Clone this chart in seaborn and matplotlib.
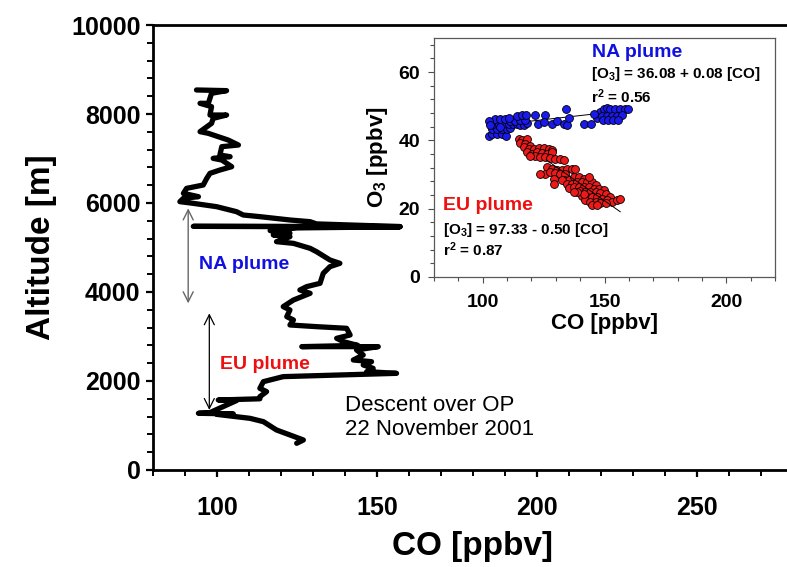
import numpy as np
import pandas as pd
import matplotlib
matplotlib.use("Agg")
import matplotlib.pyplot as plt
import seaborn as sns
from matplotlib.ticker import MultipleLocator

sns.set_theme(style="ticks")
plt.rcParams['font.family'] = ['Liberation Sans', 'DejaVu Sans']
plt.rcParams['mathtext.fontset'] = 'custom'
plt.rcParams['mathtext.rm'] = 'Liberation Sans:bold'
plt.rcParams['mathtext.it'] = 'Liberation Sans:bold'
plt.rcParams['mathtext.bf'] = 'Liberation Sans:bold'
plt.rcParams['mathtext.default'] = 'rm'
for key in ['text.color', 'axes.labelcolor', 'xtick.color', 'ytick.color', 'axes.edgecolor']:
    plt.rcParams[key] = 'black'

# Descent profile (CO vs altitude) top to bottom
profile_co = [93.6, 103.0, 98.3, 97.3, 94.7, 98.3, 97.8, 103.0, 98.8, 98.3,
              94.7, 97.3, 103.5, 106.7, 101.5, 100.9, 104.1, 98.8, 101.5, 104.6,
              100.9, 97.8, 96.8, 95.7, 90.5, 89.5, 94.2, 89.5, 88.4, 92.6,
              99.9, 106.1, 108.2, 113.4, 122.8, 129.1, 131.1, 157.2, 92.6, 157.2,
              125.0, 116.6, 122.8, 117.6, 122.8, 118.6, 123.9, 129.1, 131.1, 135.3,
              138.4, 135.3, 133.2, 132.2, 128.0, 125.9, 129.1, 123.9, 120.7, 122.8,
              121.8, 123.9, 122.8, 131.1, 140.5, 141.6, 137.4, 139.5, 144.0, 126.5,
              150.4, 143.6, 145.7, 142.6, 148.3, 145.7, 148.8, 146.8, 156.1, 120.7,
              114.5, 113.4, 115.5, 113.4, 113.4, 100.4, 106.1, 97.8, 94.2, 105.1,
              99.9, 110.3, 114.5, 118.6, 122.8, 127.0, 124.9]
profile_alt = [8540, 8525, 8465, 8240, 8240, 8165, 7977, 7977, 7902, 7790,
               7603, 7565, 7415, 7303, 7266, 7078, 7041, 7003, 6966, 6816,
               6741, 6666, 6554, 6404, 6329, 6217, 6142, 6105, 6030, 5992,
               5917, 5805, 5730, 5693, 5618, 5580, 5530, 5470, 5475, 5465,
               5440, 5380, 5320, 5280, 5243, 5131, 5093, 4981, 4906, 4719,
               4644, 4569, 4419, 4195, 4120, 4045, 3970, 3820, 3671, 3596,
               3446, 3371, 3259, 3221, 3184, 3034, 2959, 2884, 2800, 2772,
               2772, 2697, 2584, 2472, 2434, 2360, 2285, 2210, 2172, 2098,
               1985, 1835, 1761, 1648, 1600, 1573, 1560, 1290, 1274, 1260,
               1250, 1161, 1086, 899, 787, 674, 600]

# Inset scatter: NA plume (blue) and EU plume (red), CO vs O3
na_co = [102.4, 103.7, 105.8, 107.8, 109.6, 103.7, 105.8, 107.8, 109.9, 111.3,
         104.4, 106.5, 108.5, 110.6, 112.6, 114.0, 115.4, 116.8, 118.1, 105.1,
         107.2, 109.2, 111.3, 113.3, 115.4, 117.5, 114.0, 116.1, 117.9, 121.6,
         125.7, 122.5, 125.3, 128.4, 130.5, 133.2, 134.6, 134.2, 135.3, 141.7,
         144.5, 146.9, 148.3, 149.7, 151.1, 152.4, 154.5, 156.5, 158.6, 159.6,
         149.0, 151.1, 153.1, 155.2, 157.2, 149.4, 151.3, 153.5, 155.4, 145.6,
         102.4, 103.0, 110.6, 107.2]
na_o3 = [41.4, 41.9, 41.9, 41.9, 41.4, 43.3, 43.3, 43.3, 43.3, 43.6,
         44.8, 44.8, 44.8, 44.8, 44.8, 44.8, 44.6, 44.6, 45.0, 46.3,
         46.3, 46.3, 45.8, 45.8, 46.0, 46.0, 47.2, 47.5, 47.5, 47.5,
         47.4, 44.8, 45.3, 44.8, 45.8, 44.8, 44.6, 49.2, 46.6, 44.8,
         44.8, 46.6, 48.2, 49.2, 49.5, 49.2, 49.2, 49.2, 49.2, 49.2,
         47.2, 47.2, 47.2, 47.2, 47.5, 46.0, 46.0, 46.0, 46.0, 47.7,
         45.8, 44.6, 46.7, 44.0]
eu_co = [114.7, 116.1, 118.1, 115.4, 117.5, 119.5, 116.8, 118.8, 120.9, 122.9,
         125.0, 127.1, 128.4, 118.1, 120.2, 122.3, 124.3, 126.4, 128.4, 121.6,
         123.6, 125.7, 127.7, 129.8, 131.9, 133.5, 119.5, 126.4, 128.4, 130.5,
         132.5, 134.6, 136.7, 138.0, 125.7, 127.7, 129.8, 131.9, 133.9, 123.4,
         129.1, 133.2, 135.3, 137.3, 139.4, 141.5, 129.1, 132.5, 134.6, 136.7,
         138.7, 140.8, 142.8, 144.9, 146.3, 135.3, 137.3, 139.4, 141.5, 143.5,
         145.6, 147.6, 149.7, 140.1, 142.1, 144.2, 146.3, 148.3, 150.4, 152.4,
         140.8, 142.8, 144.9, 146.9, 149.0, 151.1, 153.1, 155.2, 156.5, 142.1,
         144.2, 146.3, 148.3, 150.4, 144.9, 146.9, 141.5, 138.7, 143.5, 137.3]
eu_o3 = [40.4, 40.1, 40.4, 39.2, 39.0, 38.5, 38.0, 37.5, 37.5, 37.8,
         37.8, 37.5, 37.2, 36.5, 36.1, 36.5, 36.2, 36.1, 36.5, 35.3,
         35.1, 35.1, 34.9, 34.6, 34.6, 34.3, 35.3, 32.2, 31.7, 31.4,
         31.4, 31.7, 31.7, 31.7, 30.2, 30.7, 30.4, 30.2, 30.2, 30.2,
         28.8, 28.5, 28.5, 29.3, 29.3, 28.8, 27.1, 28.3, 27.3, 27.1,
         27.8, 27.8, 27.8, 27.8, 26.8, 26.1, 26.3, 26.3, 26.3, 26.3,
         25.9, 25.9, 25.4, 25.2, 24.9, 24.9, 24.9, 24.6, 24.4, 23.4,
         23.6, 23.4, 23.4, 23.4, 22.9, 22.5, 22.0, 22.5, 22.9, 22.5,
         22.0, 22.0, 21.7, 21.7, 21.0, 21.0, 24.2, 24.9, 29.3, 24.9]

# regression fits given on the chart
na_fit = (36.08, 0.08)
eu_fit = (97.33, -0.50)
na_fit_co = np.array([104.0, 148.0])
eu_fit_co = np.array([126.0, 156.5])

profile = pd.DataFrame({'CO': profile_co, 'Altitude': profile_alt})
na = pd.DataFrame({'CO': na_co, 'O3': na_o3})
eu = pd.DataFrame({'CO': eu_co, 'O3': eu_o3})

fig = plt.figure(figsize=(7.87, 5.67), dpi=100)
ax = fig.add_axes([0.1944, 0.1711, 0.8132, 0.7848])

sns.lineplot(data=profile, x='CO', y='Altitude', sort=False, estimator=None,
             color='black', linewidth=3.8, ax=ax)
ax.lines[0].set_solid_joinstyle('round')
ax.lines[0].set_solid_capstyle('round')

ax.set_xlim(80, 280)
ax.set_ylim(0, 10000)
ax.set_xticks([100, 150, 200, 250])
ax.xaxis.set_minor_locator(MultipleLocator(10))
ax.yaxis.set_major_locator(MultipleLocator(2000))
ax.yaxis.set_minor_locator(MultipleLocator(400))
ax.tick_params(which='major', direction='out', length=5, width=1.6,
               labelsize=18, pad=4)
ax.tick_params(which='minor', direction='out', length=4, width=1.4)
for lab in ax.get_xticklabels() + ax.get_yticklabels():
    lab.set_fontweight('bold')
ax.tick_params(axis='x', pad=14)
for side in ['left', 'bottom', 'top']:
    ax.spines[side].set_linewidth(2.0)
ax.spines['right'].set_visible(False)
ax.set_xlabel('CO [ppbv]', fontsize=24, fontweight='bold', labelpad=8)
ax.set_ylabel('Altitude [m]', fontsize=24, fontweight='bold', labelpad=10)

ax.annotate('', xy=(91.0, 3745), xytext=(91.0, 5880),
            arrowprops=dict(arrowstyle='<->', color='0.4', lw=1.0,
                            mutation_scale=18, shrinkA=0, shrinkB=0))
ax.annotate('', xy=(97.6, 1350), xytext=(97.6, 3520),
            arrowprops=dict(arrowstyle='<->', color='black', lw=0.9,
                            mutation_scale=18, shrinkA=0, shrinkB=0))
ax.text(94.5, 4610, 'NA plume', color='#1010e0', fontsize=14,
        fontweight='bold', va='center', ha='left')
ax.text(100.9, 2380, 'EU plume', color='#ee1010', fontsize=14,
        fontweight='bold', va='center', ha='left')
ax.text(140.0, 1680, 'Descent over OP\n22 November 2001', fontsize=16,
        va='top', ha='left', linespacing=1.15)

# inset scatter
axi = fig.add_axes([0.5515, 0.5115, 0.4333, 0.4215])
axi.set_facecolor('white')
sns.scatterplot(data=na, x='CO', y='O3', color='#1a1aee', edgecolor='black',
                linewidth=0.6, s=32, ax=axi, zorder=3)
sns.scatterplot(data=eu, x='CO', y='O3', color='#ee1a1a', edgecolor='black',
                linewidth=0.6, s=32, ax=axi, zorder=3)
axi.plot(na_fit_co, na_fit[0] + na_fit[1] * na_fit_co, color='black', lw=0.7, zorder=2)
axi.plot(eu_fit_co, eu_fit[0] + eu_fit[1] * eu_fit_co, color='black', lw=0.7, zorder=4)
axi.set_xlim(80, 220)
axi.set_ylim(0, 70)
axi.set_xticks([100, 150, 200])
axi.set_yticks([0, 20, 40, 60])
axi.xaxis.set_minor_locator(MultipleLocator(10))
axi.yaxis.set_minor_locator(MultipleLocator(4))
axi.tick_params(which='major', direction='out', length=4, width=0.8,
                labelsize=14, pad=3, color='0.3')
axi.tick_params(which='minor', direction='out', length=3, width=0.8, color='0.3')
axi.tick_params(axis='x', pad=8)
axi.tick_params(axis='y', pad=6)
for lab in axi.get_xticklabels() + axi.get_yticklabels():
    lab.set_fontweight('bold')
for side in axi.spines.values():
    side.set_linewidth(0.9)
    side.set_color('0.35')
axi.set_xlabel('CO [ppbv]', fontsize=16, fontweight='bold', labelpad=2)
axi.set_ylabel('O$_3$ [ppbv]', fontsize=16, fontweight='bold', labelpad=6)

axi.text(144.9, 65.7, 'NA plume', color='#1010e0', fontsize=14,
         fontweight='bold', va='center', ha='left')
axi.text(144.5, 59.4, '[O$_3$] = 36.08 + 0.08 [CO]', fontsize=11,
         fontweight='bold', va='center', ha='left')
axi.text(144.5, 52.8, 'r$^2$ = 0.56', fontsize=11,
         fontweight='bold', va='center', ha='left')
axi.text(83.8, 21.0, 'EU plume', color='#ee1010', fontsize=14,
         fontweight='bold', va='center', ha='left')
axi.text(83.8, 13.9, '[O$_3$] = 97.33 - 0.50 [CO]', fontsize=11,
         fontweight='bold', va='center', ha='left')
axi.text(83.8, 7.9, 'r$^2$ = 0.87', fontsize=11,
         fontweight='bold', va='center', ha='left')

fig.savefig('out.png', dpi=100)
